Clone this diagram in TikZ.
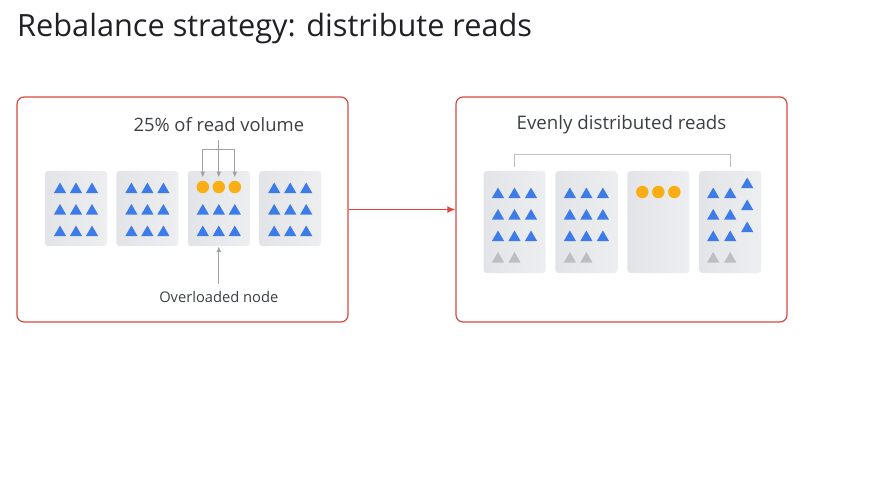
\documentclass[tikz,border=0pt]{standalone}
\usepackage{fontspec}
\setmainfont{Open Sans}
\usetikzlibrary{arrows.meta,calc,positioning,shapes.geometric}
\definecolor{panelred}{HTML}{D9483D}
\definecolor{arrowred}{HTML}{E4443A}
\definecolor{triblue}{HTML}{3C7BE8}
\definecolor{trigray}{HTML}{BDBEC0}
\definecolor{serverdark}{HTML}{E3E4E7}
\definecolor{serverlight}{HTML}{EDEEF0}
\definecolor{dotorange}{HTML}{F9AE16}
\definecolor{linegray}{HTML}{A0A2A6}
\definecolor{inkdark}{HTML}{202124}
\definecolor{inkgray}{HTML}{3C4043}
\tikzset{>={Latex[length=6pt,width=5pt]},
	panel/.style={draw=panelred, line width=1.2pt, rounded corners=7pt,
		minimum width=331pt, minimum height=225pt, inner sep=0pt},
	server/.style={left color=serverdark, right color=serverlight,
		rounded corners=3pt, minimum width=62pt, inner sep=0pt},
	tri/.style={regular polygon, regular polygon sides=3, fill=triblue,
		inner sep=0pt, minimum size=14pt},
	oldtri/.style={tri, fill=trigray},
	dot/.style={circle, fill=dotorange, inner sep=0pt, minimum size=12.5pt},
	caption/.style={text=inkgray, inner sep=0pt},
	feed/.style={draw=linegray, line width=1pt, ->},
	move/.style={draw=arrowred, line width=1.5pt, -{Latex[length=8pt,width=7pt]}},
	bracket/.style={draw=trigray, line width=1pt}}

\begin{document}
\begin{tikzpicture}[x=1pt, y=-1pt]
	\useasboundingbox (0,0) rectangle (890,479);
	\node[anchor=base west, inner sep=0pt, text=inkdark, font=\fontsize{30.7}{36}\selectfont]
		(title) at (17,36) {Rebalance strategy: distribute reads};
	\node[panel] (before) at (182.5,209.5) {};
	\node[panel] (after) at (621.5,209.5) {};
	\draw[move] (before.east) -- (after.west);
	
	\node[server, minimum height=75pt] (l1) at (76,208.5) {};
	\node[server, minimum height=75pt, right=9pt of l1] (l2) {};
	\node[server, minimum height=75pt, right=9pt of l2] (l3) {};
	\node[server, minimum height=75pt, right=9pt of l3] (l4) {};
	\foreach \s in {1,2,4}
		\foreach \r in {1,2,3}
			\foreach \c in {1,2,3}
				\node[tri] (l\s-\r-\c) at ($(l\s.center)+(\c*16-32,\r*21.5-40.5)$) {};
	\foreach \r in {2,3}
		\foreach \c in {1,2,3}
			\node[tri] (l3-\r-\c) at ($(l3.center)+(\c*16-32,\r*21.5-40.5)$) {};
	\foreach \c in {1,2,3}
		\node[dot] (hot-\c) at ($(l3.center)+(\c*16-32,-21.5)$) {};
	
	\node[caption, font=\fontsize{18.4}{22}\selectfont] (volume) at (l3 |- 0,125) {25\% of read volume};
	\node[caption, font=\fontsize{14.7}{18}\selectfont] (overload) at (l3 |- 0,297) {Overloaded node};
	\coordinate (split) at (l3 |- 0,149);
	\draw[feed] ([yshift=-8pt]volume.south) -- ([yshift=3pt]hot-2.north);
	\draw[feed] (split) -| ([yshift=3pt]hot-1.north);
	\draw[feed] (split) -| ([yshift=3pt]hot-3.north);
	\draw[feed] ([yshift=7pt]overload.north) -- (l3.south);
	
	\node[server, minimum height=102pt] (r1) at (514.5,222) {};
	\node[server, minimum height=102pt, right=9.5pt of r1] (r2) {};
	\node[server, minimum height=102pt, right=9.5pt of r2] (r3) {};
	\node[server, minimum height=102pt, right=9.5pt of r3] (r4) {};
	\foreach \s in {1,2}{
		\foreach \r in {1,2,3}
			\foreach \c in {1,2,3}
				\node[tri] (r\s-\r-\c) at ($(r\s.center)+(\c*16.5-33,\r*21.5-49)$) {};
		\foreach \c in {1,2}
			\node[oldtri] (r\s-4-\c) at ($(r\s.center)+(\c*16.5-33,37)$) {};
	}
	\foreach \r in {1,2,3}{
		\foreach \c in {1,2}
			\node[tri] (r4-\r-\c) at ($(r4.center)+(\c*17-34,\r*21.5-49)$) {};
		\node[tri] (r4-\r-3) at ($(r4.center)+(17,\r*22-59.5)$) {};
	}
	\foreach \c in {1,2}
		\node[oldtri] (r4-4-\c) at ($(r4.center)+(\c*17-34,37)$) {};
	\foreach \c in {1,2,3}
		\node[dot] (cool-\c) at ($(r3.center)+(\c*16-32,-30)$) {};
	
	\node[caption, font=\fontsize{18.7}{22}\selectfont] (even) at (621.5,125) {Evenly distributed reads};
	\draw[bracket] ([yshift=4pt]r1.north) -- ([yshift=16pt]r1.north)
		-- ([yshift=16pt]r4.north) -- ([yshift=4pt]r4.north);
\end{tikzpicture}
\end{document}
